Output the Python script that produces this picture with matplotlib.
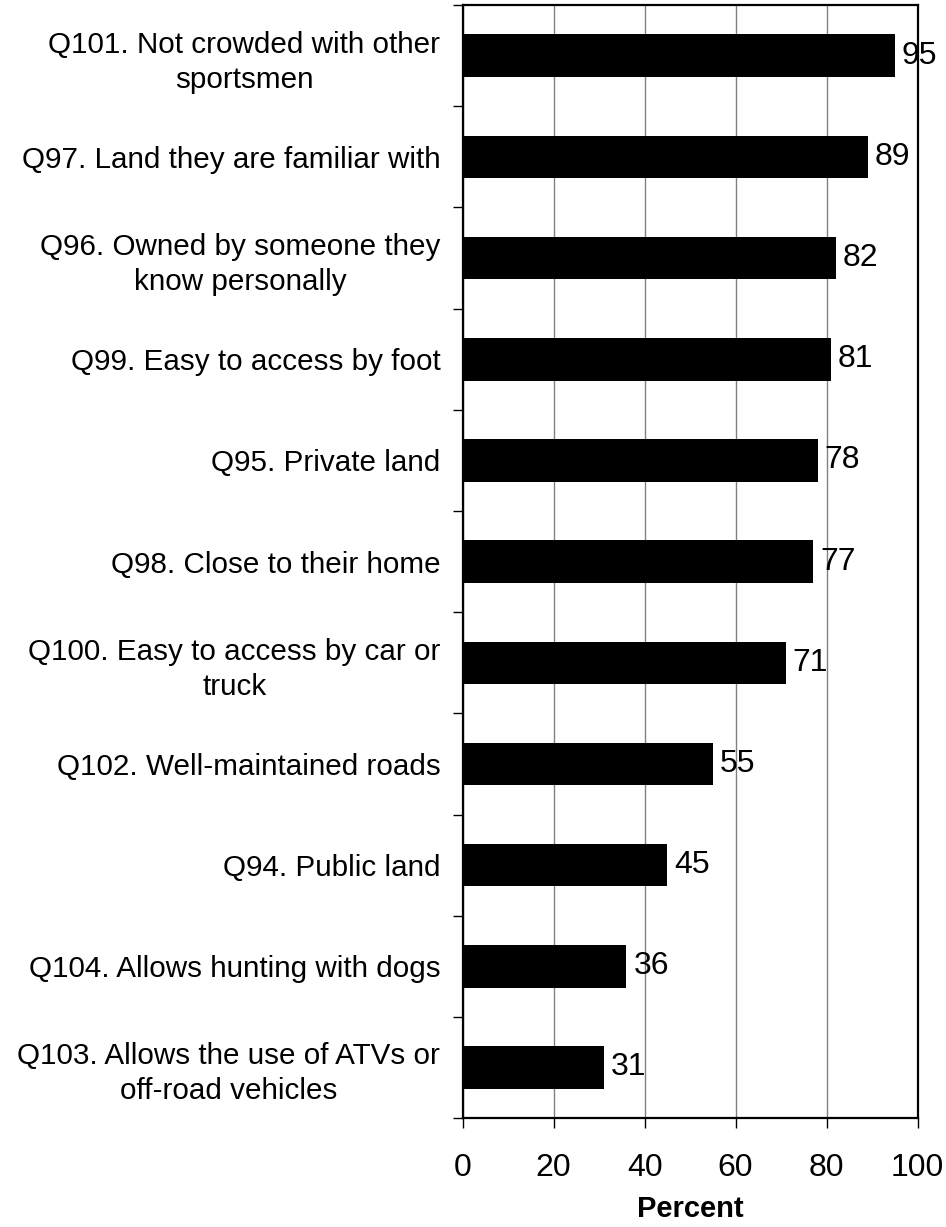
import matplotlib
matplotlib.use("Agg")
import matplotlib.pyplot as plt
import numpy as np

plt.rcParams['font.family'] = ['Liberation Sans', 'DejaVu Sans']

# survey items, top to bottom
labels = [
    "Q101. Not crowded with other\nsportsmen",
    "Q97. Land they are familiar with",
    "Q96. Owned by someone they\nknow personally",
    "Q99. Easy to access by foot",
    "Q95. Private land",
    "Q98. Close to their home",
    "Q100. Easy to access by car or\ntruck",
    "Q102. Well-maintained roads",
    "Q94. Public land",
    "Q104. Allows hunting with dogs",
    "Q103. Allows the use of ATVs or\noff-road vehicles",
]
percent = [95, 89, 82, 81, 78, 77, 71, 55, 45, 36, 31]
xticks = [0, 20, 40, 60, 80, 100]

fig = plt.figure(figsize=(9.46, 12.27), dpi=100)
ax = fig.add_axes([0.489, 0.0888, 0.481, 0.907])

y = np.arange(len(labels))
ax.barh(y, percent, height=0.42, color='black', zorder=2)

for yi, v in zip(y, percent):
    ax.annotate(str(v), xy=(v, yi), xytext=(5, 0), textcoords='offset points',
                va='center', ha='left', fontsize=23, zorder=5)

ax.set_xlim(0, 100)
ax.set_ylim(len(labels) - 0.5, -0.5)
ax.set_xticks(xticks)
ax.set_yticks(y)
ax.set_yticklabels(labels, fontsize=21.3, multialignment='center', linespacing=1.32)
ax.set_yticks(np.arange(-0.5, len(labels), 1.0), minor=True)
ax.tick_params(axis='y', which='major', length=0, pad=16)
ax.tick_params(axis='y', which='minor', length=7, width=1, direction='out')
ax.tick_params(axis='x', which='major', length=7, width=1, direction='out',
               labelsize=23, pad=18)

ax.grid(axis='x', color='#808080', linewidth=1, zorder=0)
for s in ax.spines.values():
    s.set_linewidth(1.6)
    s.set_color('black')

ax.set_xlabel("Percent", fontsize=21, fontweight='bold', labelpad=9)

fig.savefig("out.png", dpi=100)
